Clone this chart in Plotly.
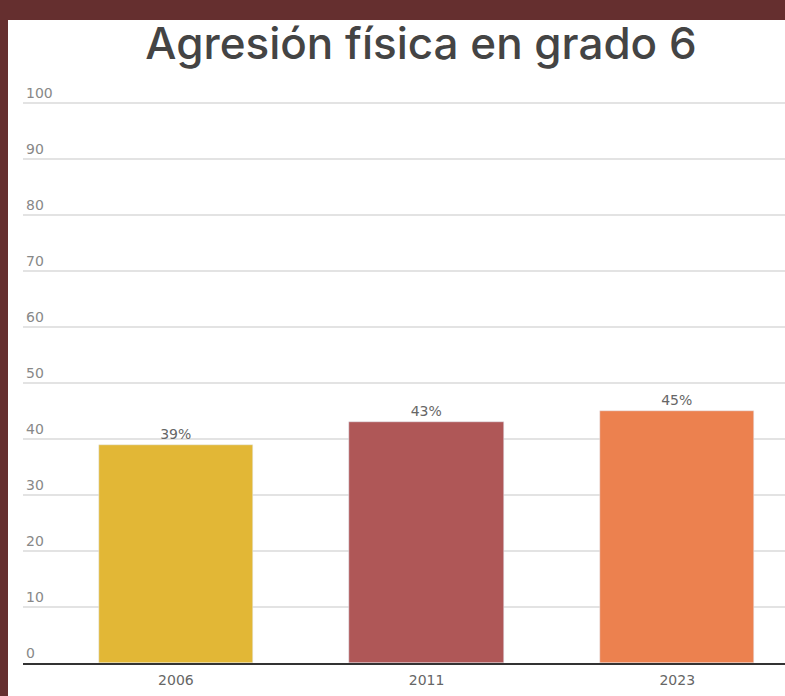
import plotly.graph_objects as go

years = ["2006", "2011", "2023"]
values = [39, 43, 45]
labels = ["39%", "43%", "45%"]
colors = ["#E2B736", "#AF5757", "#EC814F"]
y_ticks = [0, 10, 20, 30, 40, 50, 60, 70, 80, 90, 100]

BORDER = "#652F2F"
W, H = 785, 696
L, R, T, B = 23, 0, 75, 33
PW, PH = W - L - R, H - T - B
PANEL_X, PANEL_Y = 8, 20       # white panel starts here (page pixels)

fig = go.Figure(go.Bar(
    x=[0, 1, 2], y=values, marker_color=colors, width=0.615,
    text=labels, textposition="outside", cliponaxis=False,
    textfont=dict(size=14, color="#666666", family="DejaVu Sans"),
))

fig.add_shape(type="rect", xref="paper", yref="paper", layer="below",
              x0=(PANEL_X - L) / PW, x1=1.02,
              y0=-(B + 5) / PH, y1=(H - B - PANEL_Y) / PH,
              fillcolor="white", line_width=0)

fig.update_layout(
    width=W, height=H,
    margin=dict(l=L, r=R, t=T, b=B, pad=0),
    paper_bgcolor=BORDER, plot_bgcolor="white",
    showlegend=False, bargap=0,
    title=dict(text="Agresión física en grado 6", x=421 / W, xanchor="center",
               y=(H - 59) / H, yanchor="bottom", pad=dict(t=0, b=0),
               font=dict(family="Inter", size=44, color="#444444", weight=500)),
    font=dict(family="DejaVu Sans", color="#777777", size=14),
)
fig.update_xaxes(tickvals=[0, 1, 2], ticktext=years, range=[-0.61, 2.43],
                 showline=True, linecolor="#333333", linewidth=2, showgrid=False,
                 ticks="", tickfont=dict(size=14, color="#666666"), zeroline=False,
                 ticklabelstandoff=3)
fig.update_yaxes(range=[0, PH / 5.6], tickvals=y_ticks, showgrid=True,
                 gridcolor="#E3E3E3", gridwidth=1.5, zeroline=False,
                 ticklabelposition="inside top",
                 tickfont=dict(size=14, color="#888888"), showline=False, ticks="")

post = (
    "document.body.style.margin='0';"
    f"document.body.style.background='{BORDER}';"
)
fig.write_html("out.html", post_script=post, config={"displayModeBar": False})
